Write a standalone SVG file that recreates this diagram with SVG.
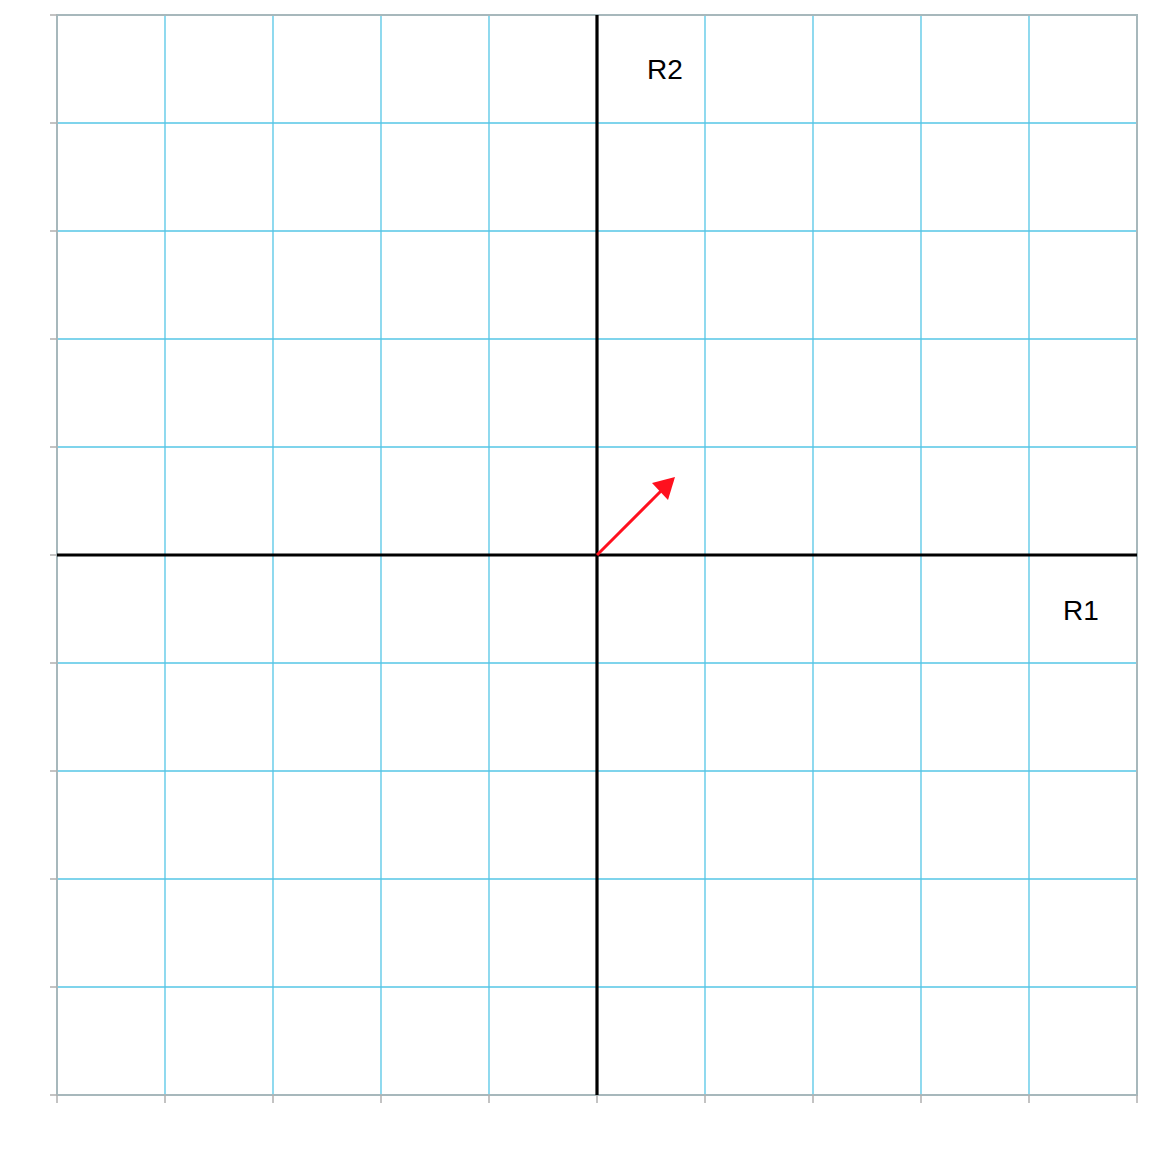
<svg xmlns="http://www.w3.org/2000/svg" width="1152" height="1152" viewBox="0 0 1152 1152">
<style>
.grid{stroke:#55c6e6;stroke-width:1.3;fill:none}
.frame{stroke:#a7b8bc;stroke-width:2;fill:none}
.tick{stroke:#b0b0b0;stroke-width:1.5}
.axis{stroke:#000;stroke-width:3.2;fill:none}
.lbl{font-family:"Liberation Sans",Arial,sans-serif;font-size:28px;fill:#000}
</style>
<rect width="1152" height="1152" fill="#fff"/>
<g id="grid">
<path class="grid" d="M165,15V1095M273,15V1095M381,15V1095M489,15V1095M705,15V1095M813,15V1095M921,15V1095M1029,15V1095M57,123H1137M57,231H1137M57,339H1137M57,447H1137M57,663H1137M57,771H1137M57,879H1137M57,987H1137"/>
<rect class="frame" x="57" y="15" width="1080" height="1080"/>
<path class="tick" d="M50,15H57M50,123H57M50,231H57M50,339H57M50,447H57M50,555H57M50,663H57M50,771H57M50,879H57M50,987H57M50,1095H57M57,1095V1103M165,1095V1103M273,1095V1103M381,1095V1103M489,1095V1103M597,1095V1103M705,1095V1103M813,1095V1103M921,1095V1103M1029,1095V1103M1137,1095V1103"/>
</g>
<g id="axes">
<path class="axis" d="M57,555H1137M597,15V1095"/>
</g>
<g id="connectors">
<line x1="597" y1="555" x2="662" y2="490" stroke="#ff101e" stroke-width="3"/>
<path d="M675,477 L652,483 L668,500 Z" fill="#ff101e"/>
</g>
<g id="labels">
<text class="lbl" x="647" y="79">R2</text>
<text class="lbl" x="1063" y="620">R1</text>
</g>
</svg>
